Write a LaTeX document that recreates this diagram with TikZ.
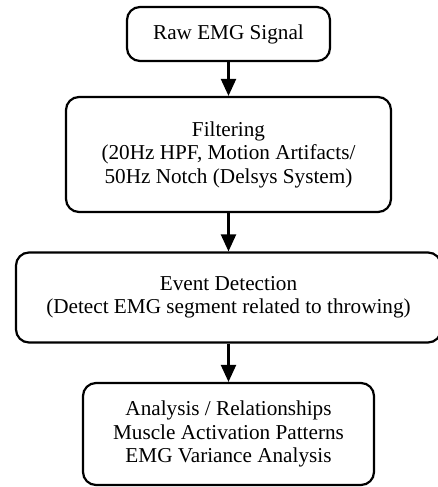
\documentclass[tikz,border=0pt]{standalone}
\usepackage{fontspec}
\setmainfont{Liberation Serif}
\usetikzlibrary{arrows.meta}

\begin{document}
\begin{tikzpicture}[x=1pt, y=1pt,
    blocco/.style={rectangle, draw, line width=2.2pt, rounded corners=13pt,
      align=center, inner sep=0pt, font=\fontsize{21.2}{23.5}\selectfont},
    freccia/.style={line width=2.2pt, -{Triangle[length=17pt, width=15pt]}}]
      \useasboundingbox (0,0) rectangle (438,-487);

      % Disegno dei nodi
      \node[blocco, minimum width=203, minimum height=54] (raw) at (228.5,-34) {Raw EMG Signal};
      \node[blocco, minimum width=325, minimum height=115] (filt) at (228.5,-154.5)
        {Filtering\\(20Hz HPF, Motion Artifacts/\\50Hz Notch (Delsys System)};
      \node[blocco, minimum width=425, minimum height=90] (event) at (228.5,-297.5)
        {Event Detection\\(Detect EMG segment related to throwing)};
      \node[blocco, minimum width=291, minimum height=102] (anal) at (228.5,-434)
        {Analysis / Relationships\\Muscle Activation Patterns\\EMG Variance Analysis};

      % Disegno degli archi
      \draw[freccia] (raw) -- (filt);
      \draw[freccia] (filt) -- (event);
      \draw[freccia] (event) -- (anal);
    \end{tikzpicture}
\end{document}
